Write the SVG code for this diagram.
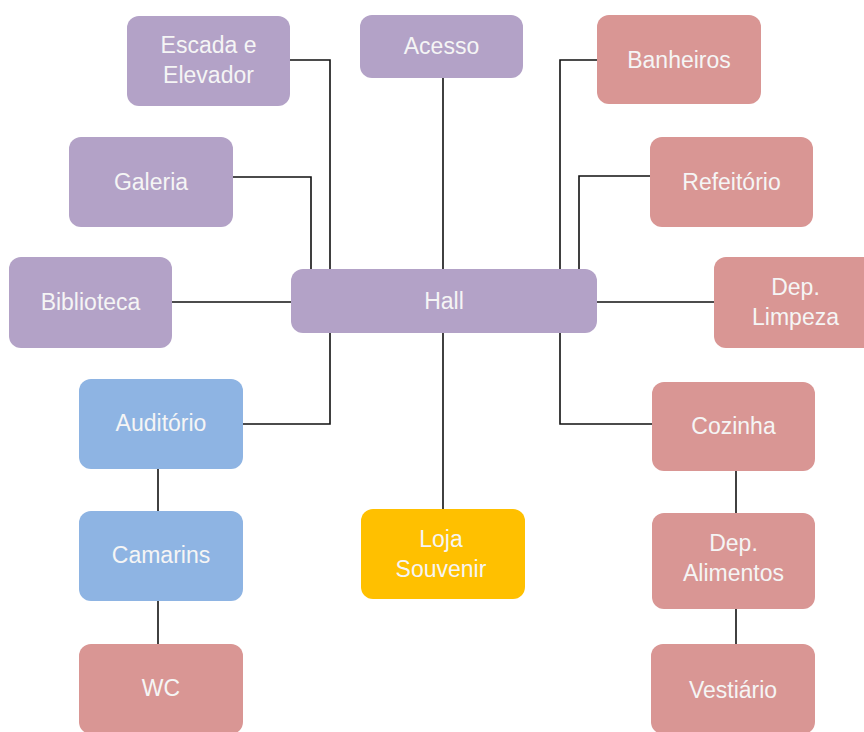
<svg xmlns="http://www.w3.org/2000/svg" width="864" height="732" viewBox="0 0 864 732">
<style>
rect{rx:12px;ry:12px}
.p{fill:#B3A2C7}
.r{fill:#D99694}
.b{fill:#8EB4E3}
.y{fill:#FFC000}
text{font-family:"Liberation Sans",Arial,sans-serif;font-size:23px;fill:#F5F5F5;text-anchor:middle}
.c{fill:none;stroke:#111;stroke-width:1.6}
</style>
<rect width="864" height="732" fill="#fff" style="rx:0;ry:0"/>
<g id="connectors">
<path class="c" d="M290,60H330V269"/>
<path class="c" d="M443,78V269"/>
<path class="c" d="M597,60H560V269"/>
<path class="c" d="M233,177H311V269"/>
<path class="c" d="M172,302H291"/>
<path class="c" d="M650,176H579V269"/>
<path class="c" d="M597,302H714"/>
<path class="c" d="M330,333V424H243"/>
<path class="c" d="M158,469V511"/>
<path class="c" d="M158,601V644"/>
<path class="c" d="M443,333V509"/>
<path class="c" d="M560,333V424H652"/>
<path class="c" d="M736,471V513"/>
<path class="c" d="M736,609V644"/>
</g>
<g id="escada"><rect class="p" x="127" y="16" width="163" height="90"/><text x="208.5" y="53">Escada e</text><text x="208.5" y="83">Elevador</text></g>
<g id="acesso"><rect class="p" x="360" y="15" width="163" height="63"/><text x="441.5" y="54">Acesso</text></g>
<g id="banheiros"><rect class="r" x="597" y="15" width="164" height="89"/><text x="679" y="68">Banheiros</text></g>
<g id="galeria"><rect class="p" x="69" y="137" width="164" height="90"/><text x="151" y="190">Galeria</text></g>
<g id="refeitorio"><rect class="r" x="650" y="137" width="163" height="90"/><text x="731.5" y="190">Refeitório</text></g>
<g id="biblioteca"><rect class="p" x="9" y="257" width="163" height="91"/><text x="90.5" y="310">Biblioteca</text></g>
<g id="hall"><rect class="p" x="291" y="269" width="306" height="64"/><text x="444" y="309">Hall</text></g>
<g id="limpeza"><rect class="r" x="714" y="257" width="163" height="91"/><text x="795.5" y="295">Dep.</text><text x="795.5" y="325">Limpeza</text></g>
<g id="auditorio"><rect class="b" x="79" y="379" width="164" height="90"/><text x="161" y="431">Auditório</text></g>
<g id="cozinha"><rect class="r" x="652" y="382" width="163" height="89"/><text x="733.5" y="434">Cozinha</text></g>
<g id="camarins"><rect class="b" x="79" y="511" width="164" height="90"/><text x="161" y="563">Camarins</text></g>
<g id="loja"><rect class="y" x="361" y="509" width="164" height="90"/><text x="441" y="547">Loja</text><text x="441" y="577">Souvenir</text></g>
<g id="alimentos"><rect class="r" x="652" y="513" width="163" height="96"/><text x="733.5" y="551">Dep.</text><text x="733.5" y="581">Alimentos</text></g>
<g id="wc"><rect class="r" x="79" y="644" width="164" height="90"/><text x="161" y="696">WC</text></g>
<g id="vestiario"><rect class="r" x="651" y="644" width="164" height="90"/><text x="733" y="698">Vestiário</text></g>
</svg>
